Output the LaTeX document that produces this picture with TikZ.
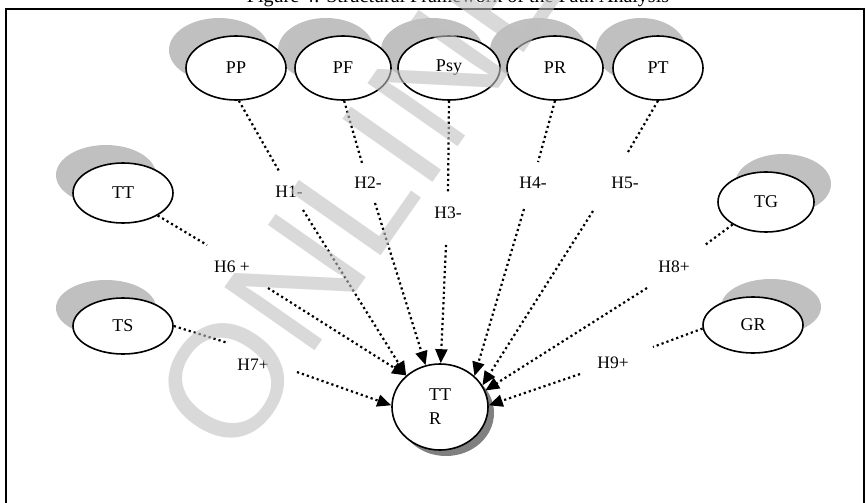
\documentclass[tikz,border=0pt]{standalone}
\usepackage{fontspec}
\setmainfont{Liberation Serif}
\newfontfamily\wmfont{Liberation Sans}
\usetikzlibrary{shapes.geometric,arrows.meta,calc}
\definecolor{shlight}{RGB}{192,192,192}
\definecolor{shdark}{RGB}{128,128,128}
\begin{document}
\begin{tikzpicture}[x=1pt,y=-1pt,
  var/.style={ellipse, draw, line width=1.6pt, fill=white, inner sep=0pt,
    font=\fontsize{18}{24}\selectfont},
  conn/.style={line width=2.2pt, dash pattern=on 2.2pt off 3pt},
  arr/.style={conn, -{Triangle[length=14pt,width=12pt]}},
  hlab/.style={font=\fontsize{17.5}{18}\selectfont, inner sep=0pt},
  shad/.style={fill=shlight},
]
\useasboundingbox (0,0) rectangle (867,503);
% frame and clipped title
\draw[line width=1.6pt] (6,510) -- (6,9) -- (864,9) -- (864,510);
\node[anchor=base, font=\fontsize{20}{20}\selectfont] (title) at (458,3)
  {Figure 4: Structural Framework of the Path Analysis};
% centres
\coordinate (cPP) at (236,68);
\coordinate (cPF) at (343,68);
\coordinate (cPsy) at (449,68);
\coordinate (cPR) at (555,68);
\coordinate (cPT) at (658,68);
\coordinate (cTT) at (123,193);
\coordinate (cTS) at (123,326);
\coordinate (cTG) at (766,202);
\coordinate (cGR) at (753,325);
\coordinate (cTTR) at (440,407);
% shadows
\fill[shad] ($(cPP)+(-17,-18)$) ellipse [x radius=50pt, y radius=32pt];
\fill[shad] ($(cPF)+(-17,-18)$) ellipse [x radius=48pt, y radius=32pt];
\fill[shad] ($(cPsy)+(-17,-18)$) ellipse [x radius=51pt, y radius=32pt];
\fill[shad] ($(cPR)+(-17,-18)$) ellipse [x radius=48pt, y radius=32pt];
\fill[shad] ($(cPT)+(-17,-18)$) ellipse [x radius=45pt, y radius=32pt];
\fill[shad] ($(cTT)+(-17,-18)$) ellipse [x radius=50pt, y radius=30pt];
\fill[shad] ($(cTS)+(-17,-18)$) ellipse [x radius=50pt, y radius=28pt];
\fill[shad] ($(cTG)+(17,-18)$) ellipse [x radius=48pt, y radius=30pt];
\fill[shad] ($(cGR)+(18,-18)$) ellipse [x radius=50pt, y radius=28pt];
\fill[shdark] ($(cTTR)+(6,6)$) ellipse [x radius=48pt, y radius=43pt];
% variables
\node[var, minimum width=100pt, minimum height=64pt] (PP) at (cPP) {PP};
\node[var, minimum width=96pt, minimum height=64pt] (PF) at (cPF) {PF};
\node[var, minimum width=102pt, minimum height=64pt] (Psy) at (cPsy) {Psy};
\node[var, minimum width=96pt, minimum height=64pt] (PR) at (cPR) {PR};
\node[var, minimum width=90pt, minimum height=64pt] (PT) at (cPT) {PT};
\node[var, minimum width=100pt, minimum height=60pt] (TT) at (cTT) {TT};
\node[var, minimum width=100pt, minimum height=56pt] (TS) at (cTS) {TS};
\node[var, minimum width=96pt, minimum height=60pt] (TG) at (cTG) {TG};
\node[var, minimum width=100pt, minimum height=56pt] (GR) at (cGR) {GR};
\node[var, minimum width=96pt, minimum height=86pt, align=left] (TTR) at (cTTR) {TT\\R};
% labels
\node[hlab] (L1) at (289,192) {H1-};
\node[hlab] (L2) at (368,183) {H2-};
\node[hlab] (L3) at (448,213) {H3-};
\node[hlab] (L4) at (533,183) {H4-};
\node[hlab] (L5) at (625,183) {H5-};
\node[hlab] (L6) at (232,267) {H6 +};
\node[hlab] (L7) at (253,365) {H7+};
\node[hlab] (L8) at (674,267) {H8+};
\node[hlab] (L9) at (613,363) {H9+};
% gap ends
\coordinate (h1a) at (279,171); \coordinate (h1b) at (303,210);
\coordinate (h2a) at (362,163); \coordinate (h2b) at (375,203);
\coordinate (h3a) at (448,193); \coordinate (h3b) at (446,245);
\coordinate (h4a) at (538,162); \coordinate (h4b) at (524,209);
\coordinate (h5a) at (628,152); \coordinate (h5b) at (593,211);
\coordinate (h6a) at (207,245); \coordinate (h6b) at (268,288);
\coordinate (h7a) at (228,343); \coordinate (h7b) at (297,372);
\coordinate (h8a) at (705,245); \coordinate (h8b) at (647,288);
\coordinate (h9a) at (653,347); \coordinate (h9b) at (580,374);
% connectors
\draw[conn] (PP.-85) -- (h1a);  \draw[arr] (h1b) -- (TTR.137);
\draw[conn] (PF.-88) -- (h2a);  \draw[arr] (h2b) -- (TTR.109);
\draw[conn] (Psy.south) -- (h3a); \draw[arr] (h3b) -- (TTR.89);
\draw[conn] (PR.south) -- (h4a); \draw[arr] (h4b) -- (TTR.42);
\draw[conn] (PT.south) -- (h5a); \draw[arr] (h5b) -- (TTR.27);
\draw[conn] (TT.-33) -- (h6a);  \draw[arr] (h6b) -- (TTR.137);
\draw[conn] (TS.east) -- (h7a); \draw[arr] (h7b) -- (TTR.178);
\draw[conn] (TG.-146) -- (h8a); \draw[arr] (h8b) -- (TTR.20);
\draw[conn] (GR.-176) -- (h9a); \draw[arr] (h9b) -- (TTR.2);
% watermark
\node[rotate=55, text=black!25, opacity=0.6, inner sep=0pt,
  font=\wmfont\fontsize{160}{160}\selectfont] (wm) at (362,188) {ONLINE};
\end{tikzpicture}
\end{document}
